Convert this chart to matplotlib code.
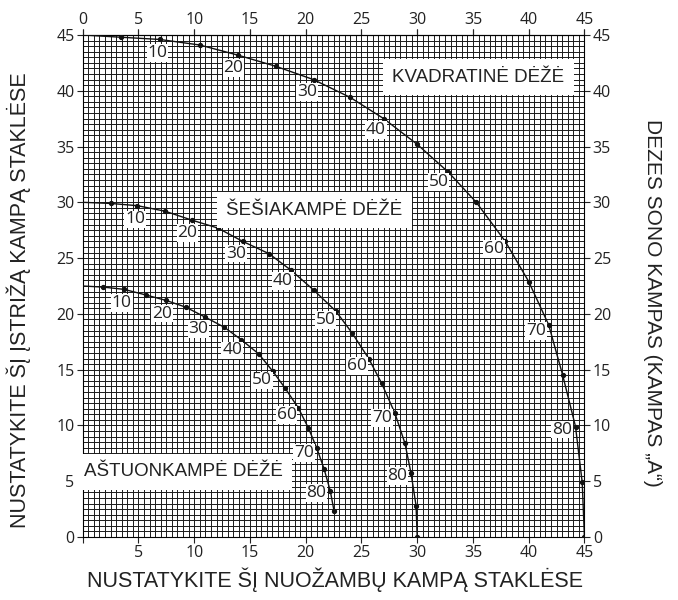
import numpy as np
import matplotlib
matplotlib.use("Agg")
import matplotlib.pyplot as plt

# Dėžės šono kampas A (laipsniais), kas 5°
kampai = [0, 5, 10, 15, 20, 25, 30, 35, 40, 45, 50, 55, 60, 65, 70, 75, 80, 85, 90]

# Kvadratinė dėžė: nuožambus kampas (x) ir įstrižas kampas (y)
kv_x = [0, 3.4, 6.9, 10.5, 13.9, 17.3, 20.7, 24.0, 27.0, 30.0, 32.8, 35.3, 37.9, 40.0, 41.8, 43.05, 44.2, 44.8, 45.0]
kv_y = [45.0, 44.8, 44.6, 44.1, 43.2, 42.2, 41.0, 39.4, 37.5, 35.2, 32.7, 30.0, 26.5, 22.9, 19.0, 14.5, 9.9, 4.9, 0.0]

# Šešiakampė dėžė
sesi_x = [0, 2.5, 4.9, 7.4, 9.8, 12.1, 14.35, 16.7, 18.7, 20.7, 22.7, 24.15, 25.65, 26.8, 28.0, 28.9, 29.45, 29.9, 30.0]
sesi_y = [30.0, 29.9, 29.7, 29.2, 28.4, 27.7, 26.5, 25.4, 23.9, 22.15, 20.25, 18.3, 16.0, 13.8, 11.1, 8.4, 5.7, 2.8, 0.0]

# Aštuonkampė dėžė (kreivė baigiasi ties 85°)
astuon_x = [0, 1.85, 3.7, 5.65, 7.5, 9.25, 11.0, 12.7, 14.2, 15.8, 17.05, 18.15, 19.35, 20.25, 21.0, 21.65, 22.2, 22.55]
astuon_y = [22.5, 22.4, 22.2, 21.7, 21.2, 20.6, 19.7, 18.8, 17.7, 16.4, 14.85, 13.35, 11.55, 9.75, 7.95, 6.1, 4.15, 2.3]

pazymeti = [10, 20, 30, 40, 50, 60, 70, 80]

pavadinimai = ["KVADRATINĖ DĖŽĖ", "ŠEŠIAKAMPĖ DĖŽĖ", "AŠTUONKAMPĖ DĖŽĖ"]
pavadinimu_vietos = [(35.5, 41.2), (20.8, 29.3), (9.0, 5.85)]

ticks = list(range(0, 46, 5))

SKAICIAI = "Open Sans"
TEKSTAS = "Liberation Sans"
SPALVA = "#222222"

fig = plt.figure(figsize=(6.78, 6.0), dpi=100)
ax = fig.add_axes([0.122, 0.105, 0.740, 0.8367])

ax.set_xlim(0, 45)
ax.set_ylim(0, 45)

# tankus tinklelis kas pusę laipsnio
ax.set_xticks(np.arange(0, 45.1, 0.5), minor=True)
ax.set_yticks(np.arange(0, 45.1, 0.5), minor=True)
ax.grid(which="both", color="#1a1a1a", linewidth=0.7)
ax.set_axisbelow(True)

ax.set_xticks(ticks)
ax.set_yticks(ticks)
ax.set_xticklabels([""] + [str(t) for t in ticks[1:]])
ax.set_yticklabels([str(t) for t in ticks])
ax.tick_params(which="minor", length=0)
ax.tick_params(which="major", direction="out", length=4, width=0.8,
               top=True, right=True, labeltop=False, labelright=True,
               labelsize=11.5, pad=2, colors=SPALVA)
for lbl in ax.get_xticklabels() + ax.get_yticklabels():
    lbl.set_fontfamily(SKAICIAI)

# viršutinė skalė turi ir nulį
sec = ax.secondary_xaxis("top")
sec.set_xticks(ticks)
sec.set_xticklabels([str(t) for t in ticks])
sec.tick_params(direction="out", length=4, width=0.8, labelsize=11.5, pad=1, colors=SPALVA)
for lbl in sec.get_xticklabels():
    lbl.set_fontfamily(SKAICIAI)

for sp in ax.spines.values():
    sp.set_linewidth(0.8)

kreives = [(kv_x, kv_y, kampai), (sesi_x, sesi_y, kampai), (astuon_x, astuon_y, kampai[:len(astuon_x)])]

for xs, ys, ks in kreives:
    ax.plot(xs, ys, color="#111111", linewidth=1.0, zorder=3)
    ax.plot(xs[1:], ys[1:], linestyle="none", marker="o", markersize=2.8,
            color="#111111", zorder=4)
    for x, y, k in zip(xs, ys, ks):
        if k not in pazymeti:
            continue
        d = np.hypot(x, y)
        dx, dy = -x / d * 10, -y / d * 10
        ax.annotate(str(k), (x, y), xytext=(dx, dy), textcoords="offset points",
                    ha="center", va="center", fontsize=12.5, family=SKAICIAI,
                    color=SPALVA, zorder=5,
                    bbox=dict(boxstyle="square,pad=0.05", fc="white", ec="none"))

for tekstas, (x, y) in zip(pavadinimai, pavadinimu_vietos):
    ax.text(x, y, tekstas, ha="center", va="center", fontsize=13.5, family=TEKSTAS,
            color=SPALVA, zorder=6, clip_on=False,
            bbox=dict(boxstyle="square,pad=0.5", fc="white", ec="none"))

fig.text(0.494, 0.033, "NUSTATYKITE ŠĮ NUOŽAMBŲ KAMPĄ STAKLĖSE", ha="center", va="center",
         fontsize=15.5, family=TEKSTAS, color=SPALVA)
fig.text(0.027, 0.5, "NUSTATYKITE ŠĮ ĮSTRIŽĄ KAMPĄ STAKLĖSE", ha="center", va="center",
         rotation=90, fontsize=15.5, family=TEKSTAS, color=SPALVA)
fig.text(0.962, 0.495, "DEZES SONO KAMPAS (KAMPAS „A“)", ha="center", va="center",
         rotation=270, fontsize=15, family=TEKSTAS, color=SPALVA)

fig.savefig("out.png", dpi=100, facecolor="white")
